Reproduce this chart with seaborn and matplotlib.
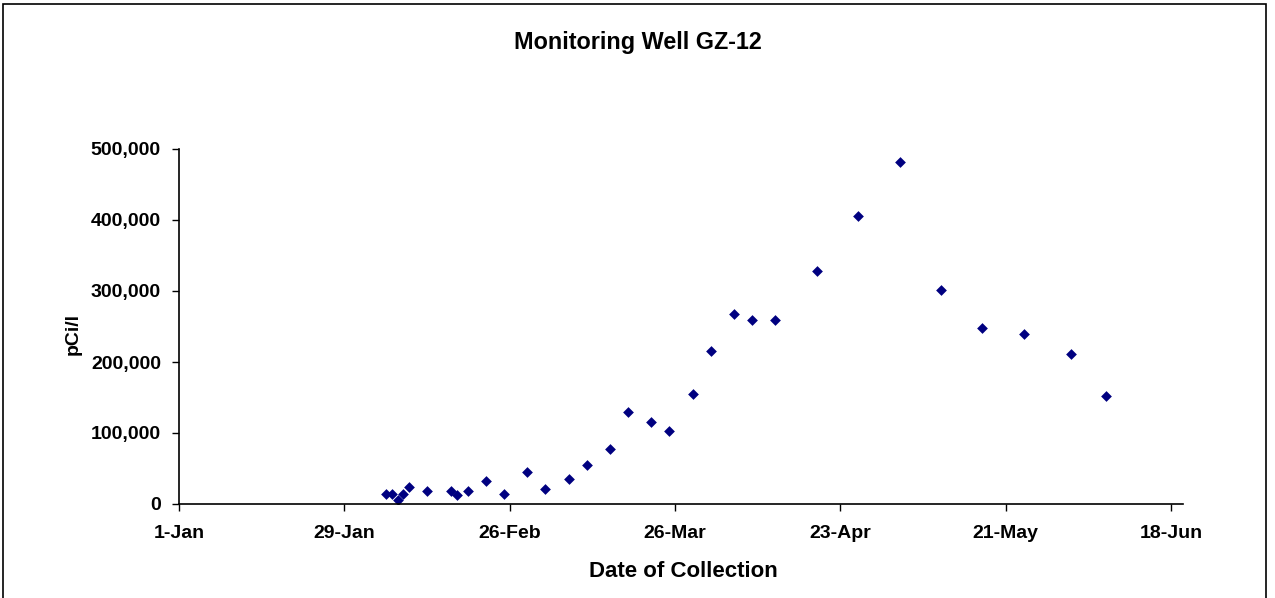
import pandas as pd
import seaborn as sns
import matplotlib.pyplot as plt
import matplotlib.ticker as mtick
import matplotlib.dates as mdates
from matplotlib.patches import Rectangle

#%% Data (pCi/l by collection date)
dates = ["2007-02-05", "2007-02-06", "2007-02-07", "2007-02-08", "2007-02-09",
         "2007-02-12", "2007-02-16", "2007-02-17", "2007-02-19", "2007-02-22",
         "2007-02-25", "2007-03-01", "2007-03-04", "2007-03-08", "2007-03-11",
         "2007-03-15", "2007-03-18", "2007-03-22", "2007-03-25", "2007-03-29",
         "2007-04-01", "2007-04-05", "2007-04-08", "2007-04-12", "2007-04-19",
         "2007-04-26", "2007-05-03", "2007-05-10", "2007-05-17", "2007-05-24",
         "2007-06-01", "2007-06-07"]
values = [14500, 14500, 5600, 14500, 23500,
          18700, 18700, 12300, 18700, 32000,
          14500, 44600, 21100, 35600, 55300,
          77000, 129000, 116000, 103000, 155000,
          215000, 267500, 258700, 258700, 328000,
          405500, 481000, 301700, 247800, 239400,
          210800, 152500]
tick_dates = ["2007-01-01", "2007-01-29", "2007-02-26", "2007-03-26",
              "2007-04-23", "2007-05-21", "2007-06-18"]
y_ticks = [0, 100000, 200000, 300000, 400000, 500000]

df = pd.DataFrame({"Date": pd.to_datetime(dates), "pCi": values})

#%% Style
sns.set_style("ticks")
plt.rcParams['font.family'] = ['Liberation Sans', 'DejaVu Sans']
plt.rcParams['font.weight'] = 'bold'
plt.rcParams['text.color'] = 'black'
plt.rcParams['axes.labelcolor'] = 'black'

fig = plt.figure(figsize=(12.75, 5.98), dpi=100)
ax = fig.add_axes([179 / 1275, 94 / 598, (1183 - 179) / 1275, (504 - 149) / 598])

sns.scatterplot(data=df, x="Date", y="pCi", marker="D", s=30,
                color="#000080", edgecolor="#000080", linewidth=0, ax=ax)

ax.set_xlim(pd.Timestamp("2007-01-01"), pd.Timestamp("2007-06-20"))
ax.set_ylim(0, 500000)
ax.set_xticks(pd.to_datetime(tick_dates))
ax.xaxis.set_major_formatter(mtick.FuncFormatter(
    lambda v, pos: f"{mdates.num2date(v).day}-{mdates.num2date(v).strftime('%b')}"))
ax.set_yticks(y_ticks)
ax.yaxis.set_major_formatter(mtick.StrMethodFormatter("{x:,.0f}"))

for s in ["top", "right"]:
    ax.spines[s].set_visible(False)
for s in ["left", "bottom"]:
    ax.spines[s].set_color("black")
    ax.spines[s].set_linewidth(1.2)
ax.tick_params(axis="both", direction="out", length=5, width=1, color="black",
               labelsize=14, labelcolor="black")
ax.tick_params(axis="y", pad=8)
ax.tick_params(axis="x", pad=10)
for lab in ax.get_xticklabels() + ax.get_yticklabels():
    lab.set_fontweight("bold")

ax.set_xlabel("Date of Collection", fontsize=16, fontweight="bold", color="black")
ax.set_ylabel("pCi/l", fontsize=14, fontweight="bold", color="black")
ax.xaxis.set_label_coords((683 - 179) / (1183 - 179), -(561 - 504) / (504 - 149))
ax.yaxis.set_label_coords(-(179 - 82) / (1183 - 179), (504 - 334) / (504 - 149))
fig.text(638 / 1275, 1 - 42 / 598, "Monitoring Well GZ-12", ha="center", va="center",
         fontsize=16.8, fontweight="bold", color="black")

# chart border like the spreadsheet chart area
fig.patches.append(Rectangle((3 / 1275, -0.05), (1266 - 3) / 1275, 1.05 - 4 / 598,
                             transform=fig.transFigure, fill=False,
                             edgecolor="black", linewidth=1.2))

fig.savefig("out.png", dpi=100)
